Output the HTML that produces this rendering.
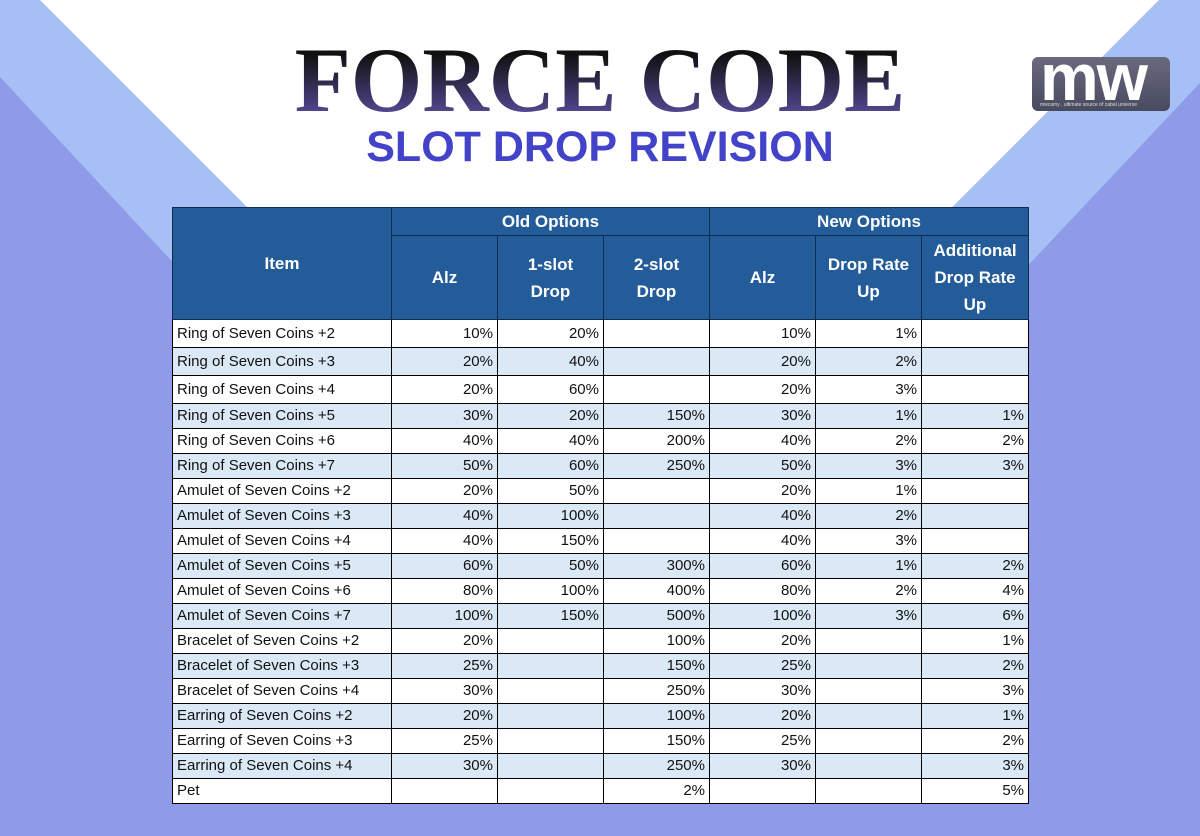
<!DOCTYPE html>
<html><head><meta charset="utf-8"><style>
body{margin:0;width:1200px;height:836px;position:relative;overflow:hidden;background:#fff;font-family:"Liberation Sans",sans-serif}
svg.bg{position:absolute;left:0;top:0}
.t1{position:absolute;left:0;top:32px;width:1200px;text-align:center;font-family:"Liberation Serif",serif;font-weight:bold;font-size:92px;line-height:96px;color:#2a2040;white-space:nowrap}
.t1 span{background:linear-gradient(#111 25%,#5a4ea0 90%);-webkit-background-clip:text;background-clip:text;color:transparent}
.t2{position:absolute;left:0;top:124px;width:1200px;text-align:center;font-size:43px;font-weight:bold;color:#4343c9;white-space:nowrap;line-height:46px}
.logo{position:absolute;left:1032px;top:57px;width:138px;height:54px;border-radius:6px;background:linear-gradient(#6a6a7e,#484a60);color:#fff;overflow:hidden}
.logo b{position:absolute;left:8px;top:-18px;font-size:66px;font-family:"Liberation Sans",sans-serif;font-weight:bold;letter-spacing:-2px}
.logo i{position:absolute;left:8px;top:45px;font-size:5px;font-style:normal;color:#ddd}
table{position:absolute;left:172px;top:207px;border-collapse:collapse;font-size:15px;color:#111}
td{border:1px solid #000;padding:0 4px;text-align:right;height:24px;line-height:22px;box-sizing:border-box}
td:first-child{text-align:left;padding-left:4px}
th{background:#235c98;color:#fff;font-size:17px;font-weight:bold;border:1px solid #0c2d50;line-height:27px;padding:0;box-sizing:border-box}
tr.a td{background:#dbe8f6}
tr.b td{background:#fff}
tr.h td{height:28px}
tr{height:25px}
</style></head><body>
<svg class="bg" width="1200" height="836">
<polygon points="40,0 0,0 0,836 1200,836 1200,0 1159,0 1159,0 600,560" fill="#a6bff5"/>
<polygon points="0,77 0,836 1200,836 1200,83 640,677 560,677" fill="#8f9be9"/>
</svg>
<div class="t1"><span>FORCE CODE</span></div>
<div class="t2">SLOT DROP REVISION</div>
<div class="logo"><b>mw</b><i>mwcamy . ultimate source of cabal universe</i></div>
<table>
<colgroup><col style="width:219px"><col style="width:106px"><col style="width:106px"><col style="width:106px"><col style="width:106px"><col style="width:106px"><col style="width:107px"></colgroup>
<tr style="height:25px"><th rowspan="2">Item</th><th colspan="3">Old Options</th><th colspan="3">New Options</th></tr>
<tr style="height:84px"><th>Alz</th><th>1-slot<br>Drop</th><th>2-slot<br>Drop</th><th>Alz</th><th>Drop Rate<br>Up</th><th>Additional<br>Drop Rate<br>Up</th></tr>
<tr class="b h"><td>Ring of Seven Coins +2</td><td>10%</td><td>20%</td><td></td><td>10%</td><td>1%</td><td></td></tr>
<tr class="a h"><td>Ring of Seven Coins +3</td><td>20%</td><td>40%</td><td></td><td>20%</td><td>2%</td><td></td></tr>
<tr class="b h"><td>Ring of Seven Coins +4</td><td>20%</td><td>60%</td><td></td><td>20%</td><td>3%</td><td></td></tr>
<tr class="a"><td>Ring of Seven Coins +5</td><td>30%</td><td>20%</td><td>150%</td><td>30%</td><td>1%</td><td>1%</td></tr>
<tr class="b"><td>Ring of Seven Coins +6</td><td>40%</td><td>40%</td><td>200%</td><td>40%</td><td>2%</td><td>2%</td></tr>
<tr class="a"><td>Ring of Seven Coins +7</td><td>50%</td><td>60%</td><td>250%</td><td>50%</td><td>3%</td><td>3%</td></tr>
<tr class="b"><td>Amulet of Seven Coins +2</td><td>20%</td><td>50%</td><td></td><td>20%</td><td>1%</td><td></td></tr>
<tr class="a"><td>Amulet of Seven Coins +3</td><td>40%</td><td>100%</td><td></td><td>40%</td><td>2%</td><td></td></tr>
<tr class="b"><td>Amulet of Seven Coins +4</td><td>40%</td><td>150%</td><td></td><td>40%</td><td>3%</td><td></td></tr>
<tr class="a"><td>Amulet of Seven Coins +5</td><td>60%</td><td>50%</td><td>300%</td><td>60%</td><td>1%</td><td>2%</td></tr>
<tr class="b"><td>Amulet of Seven Coins +6</td><td>80%</td><td>100%</td><td>400%</td><td>80%</td><td>2%</td><td>4%</td></tr>
<tr class="a"><td>Amulet of Seven Coins +7</td><td>100%</td><td>150%</td><td>500%</td><td>100%</td><td>3%</td><td>6%</td></tr>
<tr class="b"><td>Bracelet of Seven Coins +2</td><td>20%</td><td></td><td>100%</td><td>20%</td><td></td><td>1%</td></tr>
<tr class="a"><td>Bracelet of Seven Coins +3</td><td>25%</td><td></td><td>150%</td><td>25%</td><td></td><td>2%</td></tr>
<tr class="b"><td>Bracelet of Seven Coins +4</td><td>30%</td><td></td><td>250%</td><td>30%</td><td></td><td>3%</td></tr>
<tr class="a"><td>Earring of Seven Coins +2</td><td>20%</td><td></td><td>100%</td><td>20%</td><td></td><td>1%</td></tr>
<tr class="b"><td>Earring of Seven Coins +3</td><td>25%</td><td></td><td>150%</td><td>25%</td><td></td><td>2%</td></tr>
<tr class="a"><td>Earring of Seven Coins +4</td><td>30%</td><td></td><td>250%</td><td>30%</td><td></td><td>3%</td></tr>
<tr class="b"><td>Pet</td><td></td><td></td><td>2%</td><td></td><td></td><td>5%</td></tr>
</table>
</body></html>
